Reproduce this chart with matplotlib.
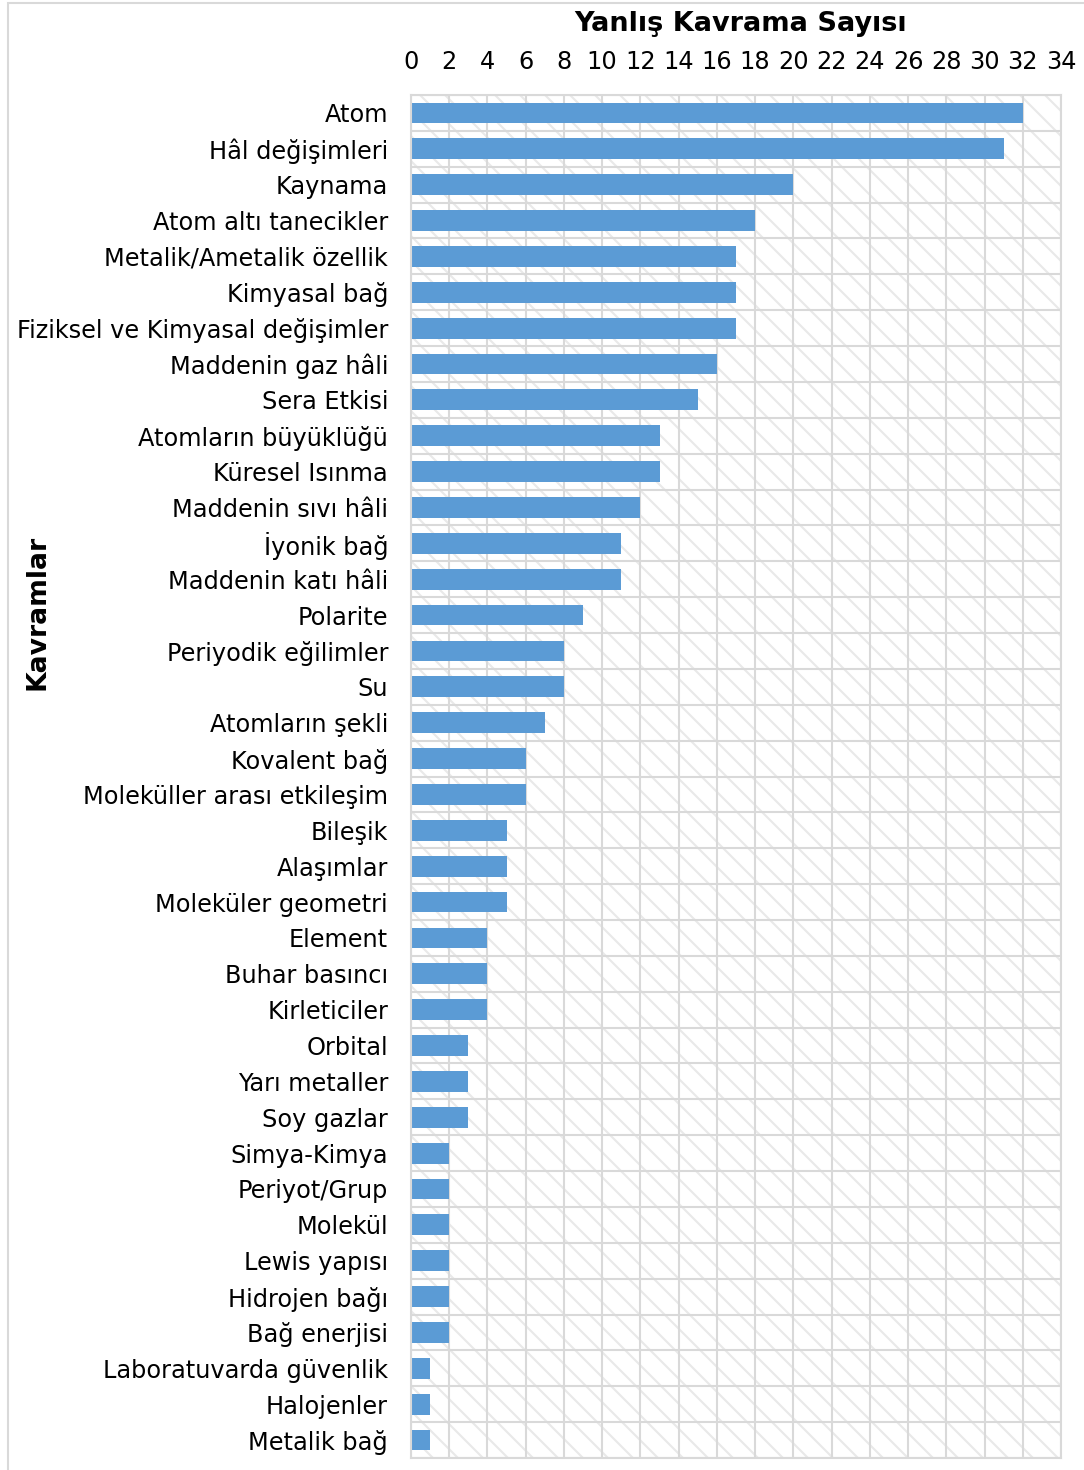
import matplotlib
matplotlib.use("Agg")
import matplotlib.pyplot as plt
from matplotlib.patches import Rectangle
import numpy as np

# Kavramlar ve yanlış kavrama sayıları (yukarıdan aşağıya)
kavramlar = [
    "Atom", "Hâl değişimleri", "Kaynama", "Atom altı tanecikler",
    "Metalik/Ametalik özellik", "Kimyasal bağ", "Fiziksel ve Kimyasal değişimler",
    "Maddenin gaz hâli", "Sera Etkisi", "Atomların büyüklüğü", "Küresel Isınma",
    "Maddenin sıvı hâli", "İyonik bağ", "Maddenin katı hâli", "Polarite",
    "Periyodik eğilimler", "Su", "Atomların şekli", "Kovalent bağ",
    "Moleküller arası etkileşim", "Bileşik", "Alaşımlar", "Moleküler geometri",
    "Element", "Buhar basıncı", "Kirleticiler", "Orbital", "Yarı metaller",
    "Soy gazlar", "Simya-Kimya", "Periyot/Grup", "Molekül", "Lewis yapısı",
    "Hidrojen bağı", "Bağ enerjisi", "Laboratuvarda güvenlik", "Halojenler",
    "Metalik bağ",
]
sayilar = [32, 31, 20, 18, 17, 17, 17, 16, 15, 13, 13, 12, 11, 11, 9, 8, 8, 7,
           6, 6, 5, 5, 5, 4, 4, 4, 3, 3, 3, 2, 2, 2, 2, 2, 2, 1, 1, 1]
x_ticks = list(range(0, 35, 2))

plt.rcParams['font.family'] = 'DejaVu Sans'
plt.rcParams['hatch.linewidth'] = 1.0

W, H, DPI = 1084, 1470, 150
fig = plt.figure(figsize=(W / DPI, H / DPI), dpi=DPI)
ax = fig.add_axes([411 / W, 1 - 1458 / H, (1061 - 411) / W, (1458 - 95) / H])

grid_c = "#d9d9d9"
y = np.arange(len(kavramlar))

# desenli arka plan
ax.add_patch(Rectangle((0, 0), 1, 1, transform=ax.transAxes, facecolor="white",
                       edgecolor="#e9e9e9", hatch="\\\\", linewidth=0, zorder=0.1))

ax.barh(y, sayilar, height=0.58, color="#5b9bd5", zorder=2)

ax.set_xlim(0, 34)
ax.set_ylim(len(kavramlar) - 0.5, -0.5)
ax.set_xticks(x_ticks)
ax.set_yticks(y)
ax.set_yticklabels(kavramlar)
ax.set_yticks(np.arange(len(kavramlar) + 1) - 0.5, minor=True)

ax.xaxis.tick_top()
ax.tick_params(axis="x", length=0, pad=10, labelsize=11.5, colors="black")
ax.tick_params(axis="y", which="both", length=0, pad=11, labelsize=11.5)

ax.grid(axis="x", color=grid_c, linewidth=1.0, zorder=1)
ax.grid(axis="y", which="minor", color=grid_c, linewidth=1.0, zorder=1)
ax.set_axisbelow(True)
for sp in ax.spines.values():
    sp.set_color(grid_c)
    sp.set_linewidth(1.0)

fig.text(741 / W, 1 - 24 / H, "Yanlış Kavrama Sayısı", ha="center", va="center",
         fontsize=13, fontweight="bold")
fig.text(38 / W, 1 - 612 / H, "Kavramlar", ha="center", va="center",
         rotation=90, fontsize=12.8, fontweight="bold")

# grafik çerçevesi
fig.add_artist(Rectangle((8 / W, -0.01), 1.0, 1 - 3 / H + 0.01,
                         transform=fig.transFigure, fill=False,
                         edgecolor=grid_c, linewidth=1.0))

fig.savefig("out.png", dpi=DPI)
